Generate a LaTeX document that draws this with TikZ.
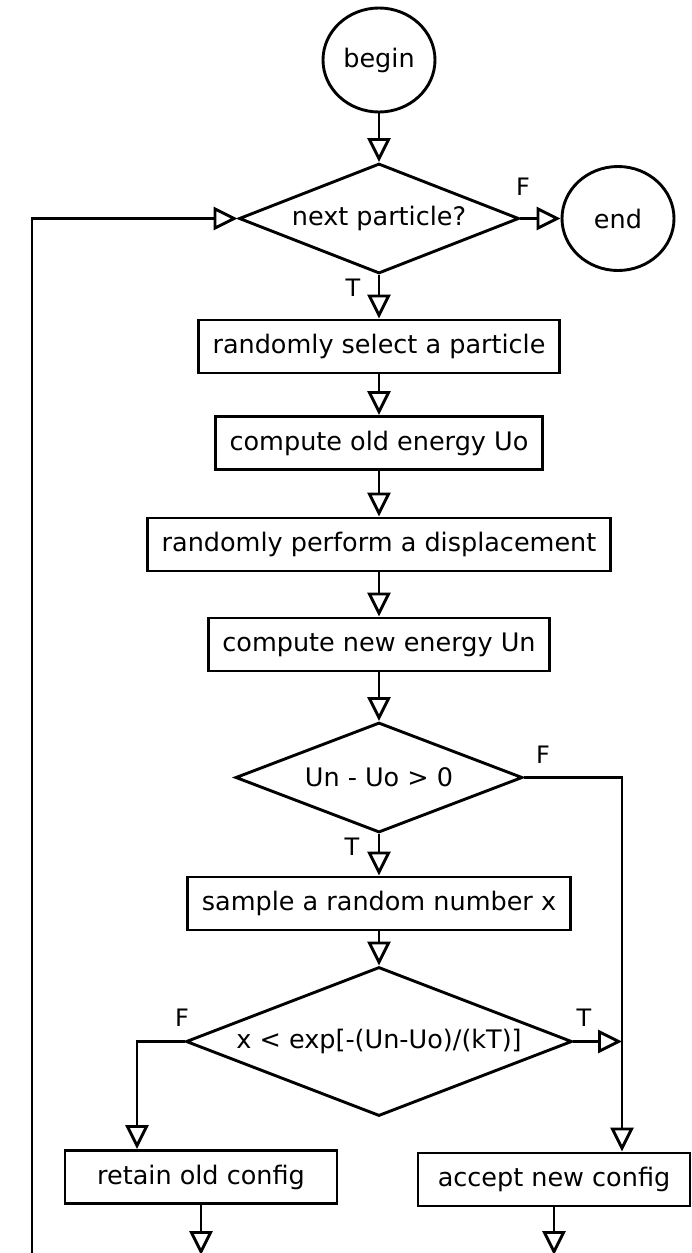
\documentclass[tikz,border=0pt]{standalone}
\usepackage{fontspec}
\setmainfont{DejaVu Sans}
\usetikzlibrary{shapes.geometric, arrows.meta}

\begin{document}
\begin{tikzpicture}[x=1pt, y=1pt, line width=2.9pt,
  every node/.style={font=\fontsize{25.5}{30}\selectfont},
  term/.style={draw, ellipse, inner sep=0pt, minimum width=112pt, minimum height=104pt},
  decision/.style={draw, diamond, inner sep=0pt, shape aspect=2.6},
  box/.style={draw, rectangle, inner xsep=14pt, minimum height=53pt},
  wbox/.style={box, minimum width=272pt},
  lbl/.style={inner sep=0pt, font=\fontsize{24}{28}\selectfont},
  flow/.style={-{Triangle[open, length=24pt, width=23pt]}}]
\useasboundingbox (0,0) rectangle (692,-1253);

% nodes
\node[term] (begin) at (379,-60) {begin};
\node[decision, minimum width=280pt, minimum height=110pt] (next) at (379,-218.5) {next particle?};
\node[term] (end) at (618,-218.5) {end};
\node[box] (select) at (379,-346.5) {randomly select a particle};
\node[box] (old) at (379,-443) {compute old energy Uo};
\node[box] (move) at (379,-544.5) {randomly perform a displacement};
\node[box] (new) at (379,-644.5) {compute new energy Un};
\node[decision, minimum width=287pt, minimum height=110pt] (dU) at (379,-777.5) {Un - Uo > 0};
\node[box] (sample) at (379,-903.5) {sample a random number x};
\node[decision, minimum width=386pt, minimum height=149pt] (metro) at (379,-1041.5) {x < exp[-(Un-Uo)/(kT)]};
\node[wbox] (retain) at (201,-1177) {retain old config};
\node[wbox] (accept) at (554,-1179.5) {accept new config};

% branch labels
\node[lbl] (f1) at (523,-187) {F};
\node[lbl] (t1) at (353,-288) {T};
\node[lbl] (f2) at (543,-755) {F};
\node[lbl] (t2) at (352,-847) {T};
\node[lbl] (f3) at (182,-1018) {F};
\node[lbl] (t3) at (584,-1018) {T};

% junctions and loose ends
\coordinate (jR) at (622,-1041.5);
\coordinate (jL) at (137,-1041.5);
\coordinate (outL) at (201,-1255);
\coordinate (outR) at (554,-1255);
\coordinate (loop) at (32,-1260);

% edges
\draw[flow] (begin) -- (next);
\draw[flow] (next) -- (end);
\draw[flow] (next) -- (select);
\draw[flow] (select) -- (old);
\draw[flow] (old) -- (move);
\draw[flow] (move) -- (new);
\draw[flow] (new) -- (dU);
\draw[flow] (dU) -- (sample);
\draw[flow] (sample) -- (metro);
\draw[flow] (dU.east) -| (accept.north -| jR);
\draw[flow] (metro.east) -- (jR);
\draw[flow] (metro.west) -- (jL) -- (jL |- retain.north);
\draw[flow] (retain) -- (outL);
\draw[flow] (accept) -- (outR);
\draw[flow] (loop) |- (next.west);
\end{tikzpicture}
\end{document}
